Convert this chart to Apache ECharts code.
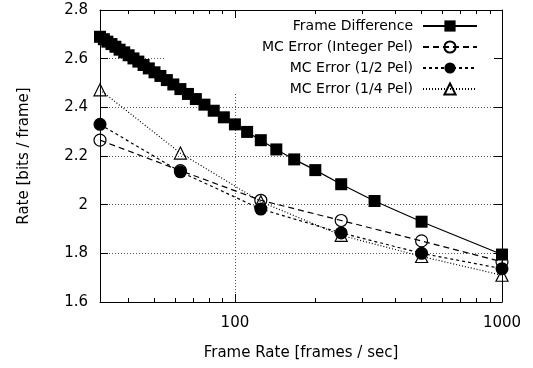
<!DOCTYPE html>
<html>
<head>
<meta charset="utf-8">
<script src="https://cdn.jsdelivr.net/npm/echarts@6/dist/echarts.min.js"></script>
<style>
html,body{margin:0;padding:0;background:#fff;}
#chart{width:533px;height:368px;}
</style>
</head>
<body>
<div id="chart"></div>
<script>
// Frame Difference: frame rates and rates (bits / frame)
var fdRates = [1000, 500, 333.3, 250, 200, 166.7, 142.9, 125, 111.1, 100, 90.9, 83.3, 76.9, 71.4, 66.7, 62.5,
               58.8, 55.6, 52.6, 50, 47.6, 45.5, 43.5, 41.7, 40, 38.5, 37.0, 35.7, 34.5, 33.3, 32.3, 31.25];
var fdValues = [1.795, 1.93, 2.015, 2.084, 2.142, 2.186, 2.227, 2.265, 2.299, 2.33, 2.359, 2.386, 2.411, 2.434, 2.455, 2.475,
                2.494, 2.512, 2.529, 2.544, 2.56, 2.574, 2.588, 2.601, 2.614, 2.626, 2.637, 2.649, 2.66, 2.67, 2.68, 2.69];
// Motion-compensated error series
var mcRates = [31.25, 62.5, 125, 250, 500, 1000];
var intPelValues = [2.265, 2.14, 2.018, 1.935, 1.851, 1.765];
var halfPelValues = [2.33, 2.135, 1.982, 1.884, 1.80, 1.737];
var quarterPelValues = [2.472, 2.212, 2.012, 1.874, 1.787, 1.71];

var seriesNames = ['Frame Difference', 'MC Error (Integer Pel)', 'MC Error (1/2 Pel)', 'MC Error (1/4 Pel)'];
var xMajorTicks = [100, 1000];
var xMinorTicks = [40, 50, 60, 70, 80, 90, 200, 300, 400, 500, 600, 700, 800, 900];
var xMin = 31.25, xMax = 1000;
var yMin = 1.6, yMax = 2.8, yStep = 0.2;

function pairs(xs, ys) { return xs.map(function (x, i) { return [x, ys[i]]; }); }

var FONT = 'DejaVu Sans';
var chart = echarts.init(document.getElementById('chart'), null, {renderer: 'canvas'});

function logAxis(extra) {
  var base = {
    type: 'log', logBase: 10, min: xMin, max: xMax,
    axisLine: {show: false},
    axisTick: {show: false},
    axisLabel: {show: false},
    splitLine: {show: false}
  };
  return Object.assign(base, extra);
}

var option = {
  backgroundColor: '#fff',
  animation: false,
  grid: {left: 100, right: 31, top: 10, bottom: 66, containLabel: false},
  graphic: {elements: [
    {type: 'rect', z: 1, shape: {x: 166, y: 11, width: 334, height: 81}, style: {fill: '#fff'}}
  ]},
  legend: {
    orient: 'vertical', align: 'right', right: 55, top: 19, padding: 0,
    itemWidth: 54, itemHeight: 14, itemGap: 7,
    textStyle: {fontFamily: FONT, fontSize: 14, color: '#000', padding: [0, 5, 0, 0]},
    data: seriesNames
  },
  xAxis: [
    logAxis({
      position: 'bottom', z: 0,
      name: 'Frame Rate [frames / sec]', nameLocation: 'middle', nameGap: 44,
      nameTextStyle: {fontFamily: FONT, fontSize: 15, color: '#000'},
      axisLine: {show: true, lineStyle: {color: '#000', width: 1}},
      axisTick: {show: true, inside: true, length: 8, customValues: xMajorTicks, lineStyle: {color: '#000'}},
      axisLabel: {show: true, customValues: xMajorTicks, margin: 14, fontFamily: FONT, fontSize: 15, color: '#000',
        formatter: function (v) { return String(Math.round(v)); }},
      splitLine: {show: true, lineStyle: {color: '#555', width: 1, type: [1, 2]}}
    }),
    logAxis({position: 'bottom', z: 3,
      axisTick: {show: true, inside: true, length: 4, customValues: xMinorTicks, lineStyle: {color: '#000'}}}),
    logAxis({position: 'top', z: 3,
      axisLine: {show: true, lineStyle: {color: '#000', width: 1}},
      axisTick: {show: true, inside: true, length: 8, customValues: xMajorTicks, lineStyle: {color: '#000'}}}),
    logAxis({position: 'top', z: 3,
      axisTick: {show: true, inside: true, length: 4, customValues: xMinorTicks, lineStyle: {color: '#000'}}})
  ],
  yAxis: [
    {
      type: 'value', min: yMin, max: yMax, interval: yStep, position: 'left', z: 0,
      name: 'Rate [bits / frame]', nameLocation: 'middle', nameGap: 68,
      nameTextStyle: {fontFamily: FONT, fontSize: 15, color: '#000'},
      axisLine: {show: true, lineStyle: {color: '#000', width: 1}},
      axisTick: {show: true, inside: true, length: 8, lineStyle: {color: '#000'}},
      axisLabel: {margin: 12, fontFamily: FONT, fontSize: 15, color: '#000',
        formatter: function (v) { return Math.abs(v - 2) < 1e-9 ? '2' : v.toFixed(1); }},
      splitLine: {show: true, lineStyle: {color: '#555', width: 1, type: [1, 2]}}
    },
    {
      type: 'value', min: yMin, max: yMax, interval: yStep, position: 'right', z: 3,
      axisLine: {show: true, lineStyle: {color: '#000', width: 1}},
      axisTick: {show: true, inside: true, length: 8, lineStyle: {color: '#000'}},
      axisLabel: {show: false},
      splitLine: {show: false}
    }
  ],
  series: [
    {
      name: seriesNames[0], type: 'line', xAxisIndex: 0, yAxisIndex: 0, clip: false,
      data: pairs(fdRates, fdValues),
      symbol: 'rect', symbolSize: 12,
      itemStyle: {color: '#000'},
      lineStyle: {color: '#000', width: 1.2, type: 'solid'}
    },
    {
      name: seriesNames[1], type: 'line', xAxisIndex: 0, yAxisIndex: 0, clip: false,
      data: pairs(mcRates, intPelValues),
      symbol: 'circle', symbolSize: 12,
      itemStyle: {color: 'rgba(255,255,255,0)', borderColor: '#000', borderWidth: 1.2},
      lineStyle: {color: '#000', width: 1.2, type: [6, 4]}
    },
    {
      name: seriesNames[2], type: 'line', xAxisIndex: 0, yAxisIndex: 0, clip: false,
      data: pairs(mcRates, halfPelValues),
      symbol: 'circle', symbolSize: 13,
      itemStyle: {color: '#000'},
      lineStyle: {color: '#000', width: 1.2, type: [3, 3]}
    },
    {
      name: seriesNames[3], type: 'line', xAxisIndex: 0, yAxisIndex: 0, clip: false,
      data: pairs(mcRates, quarterPelValues),
      symbol: 'triangle', symbolSize: 12,
      itemStyle: {color: 'rgba(255,255,255,0)', borderColor: '#000', borderWidth: 1.2},
      lineStyle: {color: '#000', width: 1.2, type: [1, 2]}
    }
  ]
};
chart.setOption(option);
</script>
</body>
</html>
